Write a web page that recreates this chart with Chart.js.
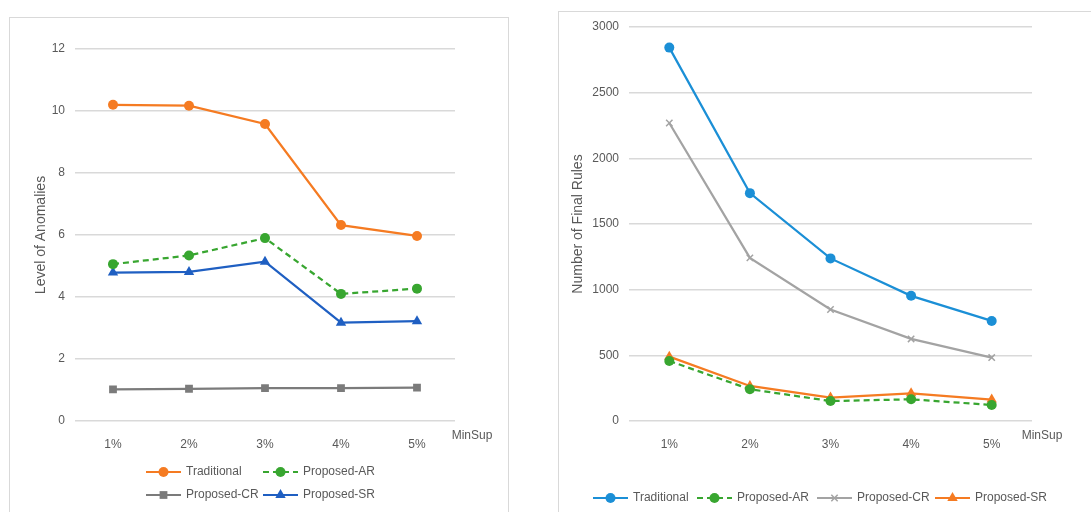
<!DOCTYPE html>
<html>
<head>
<meta charset="utf-8">
<script src="https://cdn.jsdelivr.net/npm/chart.js@4.4.0/dist/chart.umd.min.js"></script>
<style>
  body { margin: 0; width: 1091px; height: 512px; overflow: hidden; position: relative; background: #fff; }
  .box { position: absolute; border: 1px solid #d9d9d9; box-sizing: border-box; }
  #leftBox { left: 9px; top: 17px; width: 500px; height: 520px; }
  #rightBox { left: 558px; top: 11px; width: 560px; height: 520px; }
  .wrap { position: absolute; top: 0; }
  #leftWrap { left: 0; width: 545px; height: 512px; }
  #rightWrap { left: 545px; width: 546px; height: 512px; }
</style>
</head>
<body>
<div class="box" id="leftBox"></div>
<div class="box" id="rightBox"></div>
<div class="wrap" id="leftWrap"><canvas id="leftChart" width="545" height="512"></canvas></div>
<div class="wrap" id="rightWrap"><canvas id="rightChart" width="546" height="512"></canvas></div>
<script>
// x categories (MinSup)
var categories = ['1%', '2%', '3%', '4%', '5%'];
var xAxisName = 'MinSup';

// left chart: Level of Anomalies
var anomTraditional = [10.2, 10.17, 9.58, 6.32, 5.97];
var anomAR = [5.06, 5.34, 5.9, 4.1, 4.27];
var anomCR = [1.02, 1.04, 1.06, 1.06, 1.08];
var anomSR = [4.79, 4.81, 5.14, 3.17, 3.22];
var anomTicks = [0, 2, 4, 6, 8, 10, 12];

// right chart: Number of Final Rules
var rulesTraditional = [2843, 1735, 1238, 953, 762];
var rulesAR = [457, 242, 152, 165, 122];
var rulesCR = [2269, 1242, 849, 625, 483];
var rulesSR = [490, 267, 178, 211, 163];
var rulesTicks = [0, 500, 1000, 1500, 2000, 2500, 3000];

var FONT = "'Liberation Sans', Arial, sans-serif";
var TEXT = '#595959';
var GRID = '#d9d9d9';

var ORANGE = '#f57b22';
var GREEN = '#38a630';
var GRAY = '#7b7b7b';
var LIGHTGRAY = '#a3a3a3';
var BLUE_DARK = '#1f5fc2';
var BLUE = '#1b8fd6';

function series(label, data, color, style, radius, dash) {
  return {
    label: label,
    data: data,
    borderColor: color,
    backgroundColor: color,
    borderWidth: 2.25,
    borderDash: dash || [],
    pointStyle: style,
    pointRadius: radius,
    pointBorderWidth: style === 'crossRot' ? 1.5 : 0,
    pointBorderColor: color,
    pointBackgroundColor: color,
    tension: 0,
    fill: false
  };
}

// draws the x axis name and the excel-like legend (line + marker)
var extrasPlugin = {
  id: 'extras',
  afterDraw: function(chart, args, opts) {
    var ctx = chart.ctx;
    var area = chart.chartArea;
    ctx.save();
    ctx.fillStyle = TEXT;
    ctx.font = '12px ' + FONT;
    ctx.textBaseline = 'middle';
    ctx.textAlign = 'center';
    ctx.fillText(xAxisName, area.right + opts.nameOffset, opts.nameY);

    ctx.textAlign = 'left';
    chart.data.datasets.forEach(function(ds, i) {
      var pos = opts.items[i];
      var x = pos[0], y = pos[1];
      ctx.strokeStyle = ds.borderColor;
      ctx.lineWidth = 2;
      ctx.setLineDash(ds.borderDash);
      ctx.beginPath();
      ctx.moveTo(x, y);
      ctx.lineTo(x + 35, y);
      ctx.stroke();
      ctx.setLineDash([]);
      ctx.fillStyle = ds.backgroundColor;
      ctx.lineWidth = ds.pointBorderWidth;
      Chart.helpers.drawPoint(ctx, {
        pointStyle: ds.pointStyle,
        radius: ds.pointRadius,
        borderWidth: ds.pointBorderWidth,
        rotation: 0
      }, x + 17.5, y);
      ctx.fillStyle = TEXT;
      ctx.fillText(ds.label, x + 40, y);
    });
    ctx.restore();
  }
};

function makeChart(id, datasets, ticks, title, cfg) {
  return new Chart(document.getElementById(id), {
    type: 'line',
    data: { labels: categories, datasets: datasets },
    options: {
      responsive: false,
      animation: false,
      events: [],
      layout: { padding: { top: cfg.top, right: cfg.right, left: 0, bottom: 0 } },
      plugins: {
        legend: { display: false },
        tooltip: { enabled: false },
        extras: cfg.extras
      },
      scales: {
        x: {
          offset: true,
          grid: { display: false },
          border: { display: false },
          ticks: { color: TEXT, font: { family: FONT, size: 12 }, padding: 8 },
          afterFit: function(s) { s.height = cfg.bottom; }
        },
        y: {
          min: ticks[0],
          max: ticks[ticks.length - 1],
          afterBuildTicks: function(s) { s.ticks = ticks.map(function(v) { return { value: v }; }); },
          grid: { color: GRID, lineWidth: 1.5, drawTicks: false },
          border: { display: false },
          ticks: {
            color: TEXT,
            font: { family: FONT, size: 12 },
            padding: 10,
            callback: function(v) { return String(v); }
          },
          title: {
            display: true,
            text: title,
            color: TEXT,
            font: { family: FONT, size: 14 },
            padding: { top: cfg.titlePad, bottom: 0 }
          },
          afterFit: function(s) { s.width = cfg.left; }
        }
      }
    },
    plugins: [extrasPlugin]
  });
}

makeChart('leftChart', [
  series('Traditional', anomTraditional, ORANGE, 'circle', 5),
  series('Proposed-AR', anomAR, GREEN, 'circle', 5, [6, 4]),
  series('Proposed-CR', anomCR, GRAY, 'rect', 5.5),
  series('Proposed-SR', anomSR, BLUE_DARK, 'triangle', 6)
], anomTicks, 'Level of Anomalies', {
  top: 49, right: 90, bottom: 91, left: 75, titlePad: 33,
  extras: {
    nameOffset: 17, nameY: 436,
    items: [[146, 472], [263, 472], [146, 495], [263, 495]]
  }
});

makeChart('rightChart', [
  series('Traditional', rulesTraditional, BLUE, 'circle', 5),
  series('Proposed-AR', rulesAR, GREEN, 'circle', 5, [6, 4]),
  series('Proposed-CR', rulesCR, LIGHTGRAY, 'crossRot', 4.5),
  series('Proposed-SR', rulesSR, ORANGE, 'triangle', 6)
], rulesTicks, 'Number of Final Rules', {
  top: 27, right: 59, bottom: 91, left: 84, titlePad: 25,
  extras: {
    nameOffset: 10, nameY: 436,
    items: [[48, 498], [152, 498], [272, 498], [390, 498]]
  }
});
</script>
</body>
</html>
